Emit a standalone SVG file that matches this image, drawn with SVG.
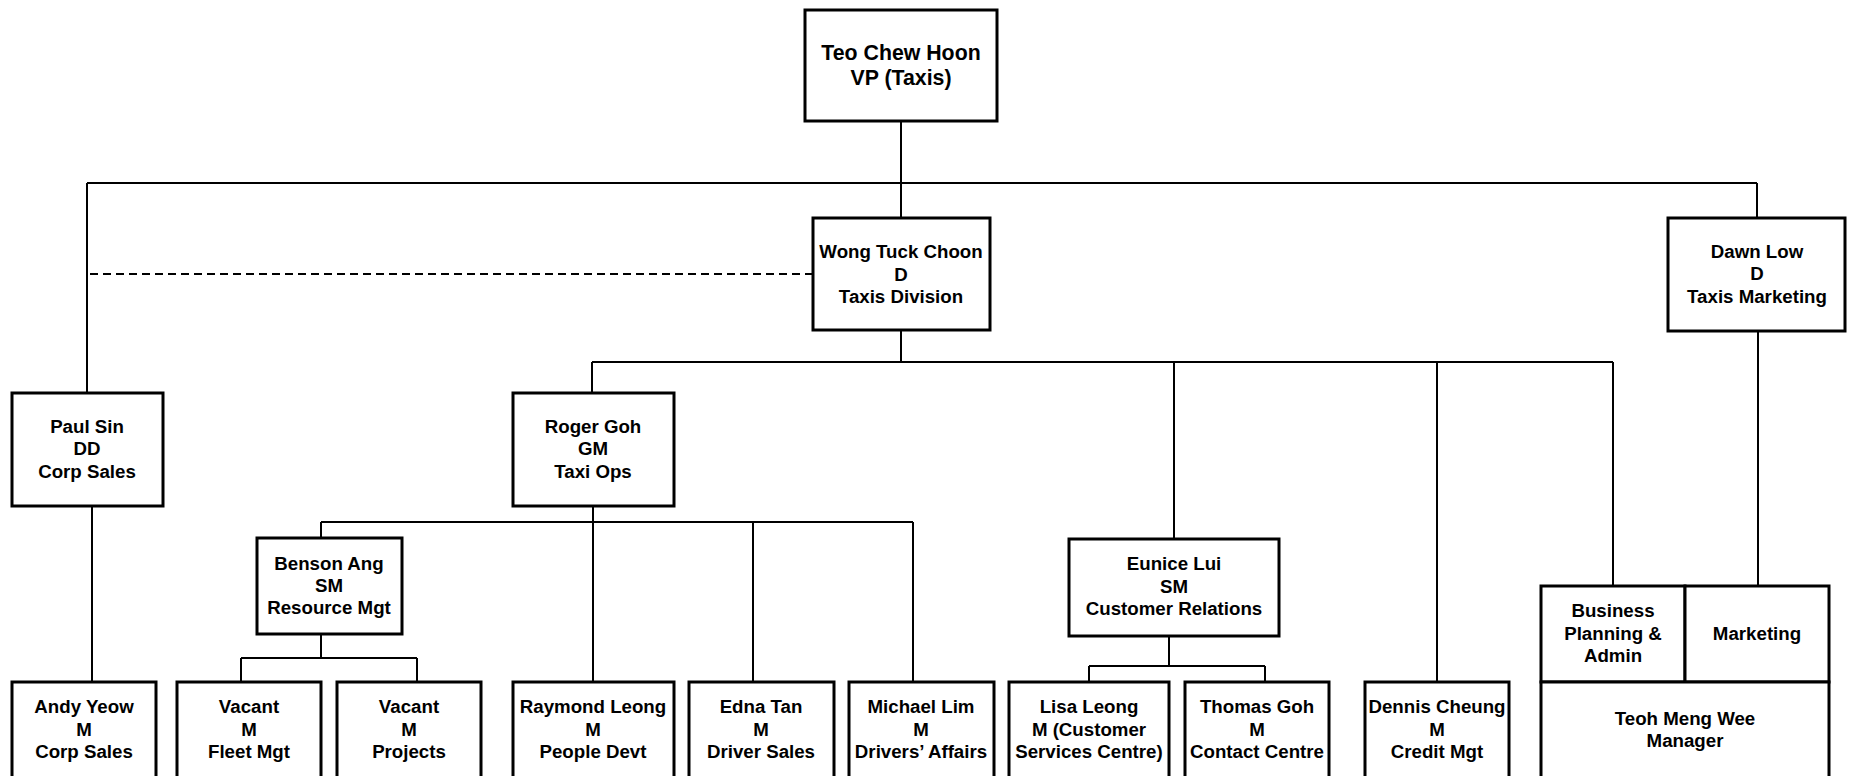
<svg xmlns="http://www.w3.org/2000/svg" width="1854" height="776" viewBox="0 0 1854 776">
<style>
.box{fill:#fff;stroke:#000;stroke-width:3}
.t{font-family:"Liberation Sans",Arial,sans-serif;font-weight:bold;font-size:18.7px;text-anchor:middle;fill:#000}
.big{font-size:21.3px}
.ln{fill:none;stroke:#000;stroke-width:2}
.dash{fill:none;stroke:#000;stroke-width:2;stroke-dasharray:8 5}
</style>
<rect width="1854" height="776" fill="#fff"/>
<g id="connectors">
<path class="ln" d="M901 121V218M87 183H1757M87 183V393M1757 183V218"/>
<path class="dash" d="M90 274H813"/>
<path class="ln" d="M901 330V362M592 362H1613M592 362V393M1174 362V539M1437 362V682M1613 362V586"/>
<path class="ln" d="M92 506V685"/>
<path class="ln" d="M593 506V682M321 522H913M321 522V538M753 522V682M913 522V682"/>
<path class="ln" d="M321 634V658M241 658H417M241 658V682M417 658V682"/>
<path class="ln" d="M1169 636V666M1089 666H1265M1089 666V682M1265 666V682"/>
<path class="ln" d="M1758 331V586"/>
</g>
<g id="n-teo"><rect class="box" x="805" y="10" width="192" height="111"/><text class="t big" x="901" y="60">Teo Chew Hoon</text><text class="t big" x="901" y="85">VP (Taxis)</text></g>
<g id="n-wong"><rect class="box" x="813" y="218" width="177" height="112"/><text class="t" x="901" y="258">Wong Tuck Choon</text><text class="t" x="901" y="281">D</text><text class="t" x="901" y="303">Taxis Division</text></g>
<g id="n-dawn"><rect class="box" x="1668" y="218" width="177" height="113"/><text class="t" x="1757" y="258">Dawn Low</text><text class="t" x="1757" y="280">D</text><text class="t" x="1757" y="303">Taxis Marketing</text></g>
<g id="n-paul"><rect class="box" x="12" y="393" width="151" height="113"/><text class="t" x="87" y="433">Paul Sin</text><text class="t" x="87" y="455">DD</text><text class="t" x="87" y="478">Corp Sales</text></g>
<g id="n-roger"><rect class="box" x="513" y="393" width="161" height="113"/><text class="t" x="593" y="433">Roger Goh</text><text class="t" x="593" y="455">GM</text><text class="t" x="593" y="478">Taxi Ops</text></g>
<g id="n-benson"><rect class="box" x="257" y="538" width="145" height="96"/><text class="t" x="329" y="570">Benson Ang</text><text class="t" x="329" y="592">SM</text><text class="t" x="329" y="614">Resource Mgt</text></g>
<g id="n-eunice"><rect class="box" x="1069" y="539" width="210" height="97"/><text class="t" x="1174" y="570">Eunice Lui</text><text class="t" x="1174" y="593">SM</text><text class="t" x="1174" y="615">Customer Relations</text></g>
<g id="n-andy"><rect class="box" x="12" y="682" width="144" height="110"/><text class="t" x="84" y="713">Andy Yeow</text><text class="t" x="84" y="736">M</text><text class="t" x="84" y="758">Corp Sales</text></g>
<g id="n-vacant1"><rect class="box" x="177" y="682" width="144" height="110"/><text class="t" x="249" y="713">Vacant</text><text class="t" x="249" y="736">M</text><text class="t" x="249" y="758">Fleet Mgt</text></g>
<g id="n-vacant2"><rect class="box" x="337" y="682" width="144" height="110"/><text class="t" x="409" y="713">Vacant</text><text class="t" x="409" y="736">M</text><text class="t" x="409" y="758">Projects</text></g>
<g id="n-raymond"><rect class="box" x="513" y="682" width="161" height="110"/><text class="t" x="593" y="713">Raymond Leong</text><text class="t" x="593" y="736">M</text><text class="t" x="593" y="758">People Devt</text></g>
<g id="n-edna"><rect class="box" x="689" y="682" width="145" height="110"/><text class="t" x="761" y="713">Edna Tan</text><text class="t" x="761" y="736">M</text><text class="t" x="761" y="758">Driver Sales</text></g>
<g id="n-michael"><rect class="box" x="849" y="682" width="145" height="110"/><text class="t" x="921" y="713">Michael Lim</text><text class="t" x="921" y="736">M</text><text class="t" x="921" y="758">Drivers’ Affairs</text></g>
<g id="n-lisa"><rect class="box" x="1009" y="682" width="160" height="110"/><text class="t" x="1089" y="713">Lisa Leong</text><text class="t" x="1089" y="736">M (Customer</text><text class="t" x="1089" y="758">Services Centre)</text></g>
<g id="n-thomas"><rect class="box" x="1185" y="682" width="144" height="110"/><text class="t" x="1257" y="713">Thomas Goh</text><text class="t" x="1257" y="736">M</text><text class="t" x="1257" y="758">Contact Centre</text></g>
<g id="n-dennis"><rect class="box" x="1365" y="682" width="144" height="110"/><text class="t" x="1437" y="713">Dennis Cheung</text><text class="t" x="1437" y="736">M</text><text class="t" x="1437" y="758">Credit Mgt</text></g>
<g id="n-business"><rect class="box" x="1541" y="586" width="144" height="96"/><text class="t" x="1613" y="617">Business</text><text class="t" x="1613" y="640">Planning &amp;</text><text class="t" x="1613" y="662">Admin</text></g>
<g id="n-marketing"><rect class="box" x="1685" y="586" width="144" height="96"/><text class="t" x="1757" y="640">Marketing</text></g>
<g id="n-teoh"><rect class="box" x="1541" y="682" width="288" height="110"/><text class="t" x="1685" y="725">Teoh Meng Wee</text><text class="t" x="1685" y="747">Manager</text></g>
</svg>
